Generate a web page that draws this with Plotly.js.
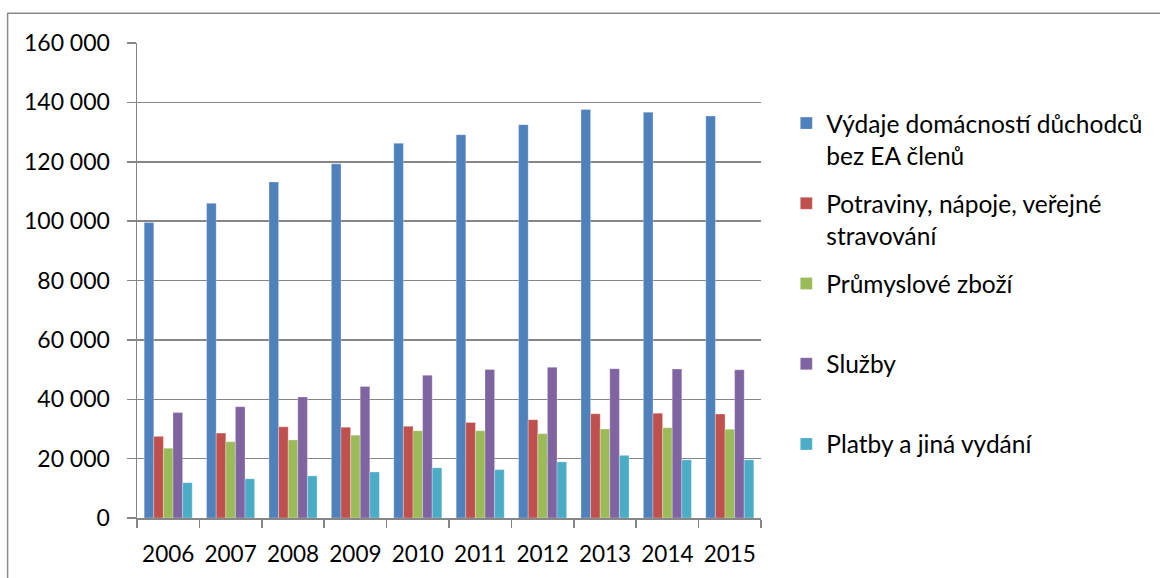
<!DOCTYPE html>
<html>
<head>
<meta charset="utf-8">
<script src="https://cdn.plot.ly/plotly-3.0.1.min.js"></script>
<style>
html,body{margin:0;padding:0;background:#fff;}
#chart{width:1160px;height:578px;}
</style>
</head>
<body>
<div id="chart"></div>
<script>
const years = ['2006','2007','2008','2009','2010','2011','2012','2013','2014','2015'];
const seriesNames = [
  'Výdaje domácností důchodců<br>bez EA členů',
  'Potraviny, nápoje, veřejné<br>stravování',
  'Průmyslové zboží<br> ',
  'Služby<br> ',
  'Platby a jiná vydání<br> '
];
const vydaje    = [99500, 106000, 113200, 119300, 126200, 129100, 132500, 137600, 136700, 135400];
const potraviny = [27500, 28600, 30700, 30600, 30900, 32200, 33100, 35100, 35300, 35000];
const prumysl   = [23500, 25700, 26300, 27900, 29400, 29400, 28400, 30000, 30400, 29900];
const sluzby    = [35500, 37500, 40800, 44300, 48100, 50000, 50800, 50300, 50200, 49900];
const platby    = [11900, 13200, 14200, 15500, 16900, 16300, 18900, 21100, 19600, 19600];
const colors = ['#4F81BD', '#C0504D', '#9BBB59', '#8064A2', '#4BACC6'];

const values = [vydaje, potraviny, prumysl, sluzby, platby];
const traces = values.map((v, i) => ({
  type: 'bar',
  x: years,
  y: v,
  name: seriesNames[i],
  legendgroup: 'g' + i,
  marker: {color: colors[i], line: {color: 'rgba(255,255,255,0.35)', width: 0.8}},
  hoverinfo: 'x+y'
}));

// Plot area: x 136.7..760.7, y 43.3..518.3
const L = 136.7, R = 760.7, T = 43.3, B = 518.3;
const pw = R - L, ph = B - T;
const px = X => (X - L) / pw;
const py = Y => (B - Y) / ph;

const fam = 'Lato, "Open Sans", sans-serif';
const font = {family: fam, size: 22, color: '#000'};

const layout = {
  width: 1160, height: 578,
  margin: {l: L, r: 1160 - R, t: T, b: 578 - B, pad: 0},
  paper_bgcolor: '#fff', plot_bgcolor: '#fff',
  font: font,
  separators: ', ',
  barmode: 'group',
  bargap: 0.23,
  bargroupgap: 0,
  showlegend: true,
  legend: {
    x: px(786), y: py(101), xanchor: 'left', yanchor: 'top',
    font: {family: fam, size: 24.5, color: '#000'},
    traceorder: 'grouped',
    tracegroupgap: 13.5,
    valign: 'top',
    itemwidth: 30,
    bgcolor: 'rgba(0,0,0,0)'
  },
  xaxis: {
    type: 'category',
    showgrid: false,
    showline: true, linecolor: '#868686', linewidth: 1.5,
    ticks: 'outside', tickson: 'boundaries', ticklen: 8, tickcolor: '#868686', tickwidth: 1.5,
    ticklabelstandoff: 15,
    tickfont: {family: fam, size: 22.5, color: '#000'},
    zeroline: false
  },
  yaxis: {
    range: [0, 160000],
    dtick: 20000, tick0: 0,
    tickformat: ',d',
    showgrid: true, gridcolor: '#868686', gridwidth: 1.5,
    showline: true, linecolor: '#868686', linewidth: 1.5,
    ticks: 'outside', ticklen: 9, tickcolor: '#868686', tickwidth: 1.5,
    ticklabelstandoff: 12,
    tickfont: {family: fam, size: 23, color: '#000'},
    zeroline: false,
    fixedrange: true
  },
  shapes: [
    {type: 'line', xref: 'paper', yref: 'paper', x0: px(7), x1: px(1162), y0: py(13.5), y1: py(13.5),
     line: {color: '#8a8a8a', width: 1.5}},
    {type: 'line', xref: 'paper', yref: 'paper', x0: px(7.3), x1: px(7.3), y0: py(13.5), y1: py(580),
     line: {color: '#8a8a8a', width: 1.5}}
  ]
};

Plotly.newPlot('chart', traces, layout, {displayModeBar: false, staticPlot: true});
</script>
</body>
</html>
